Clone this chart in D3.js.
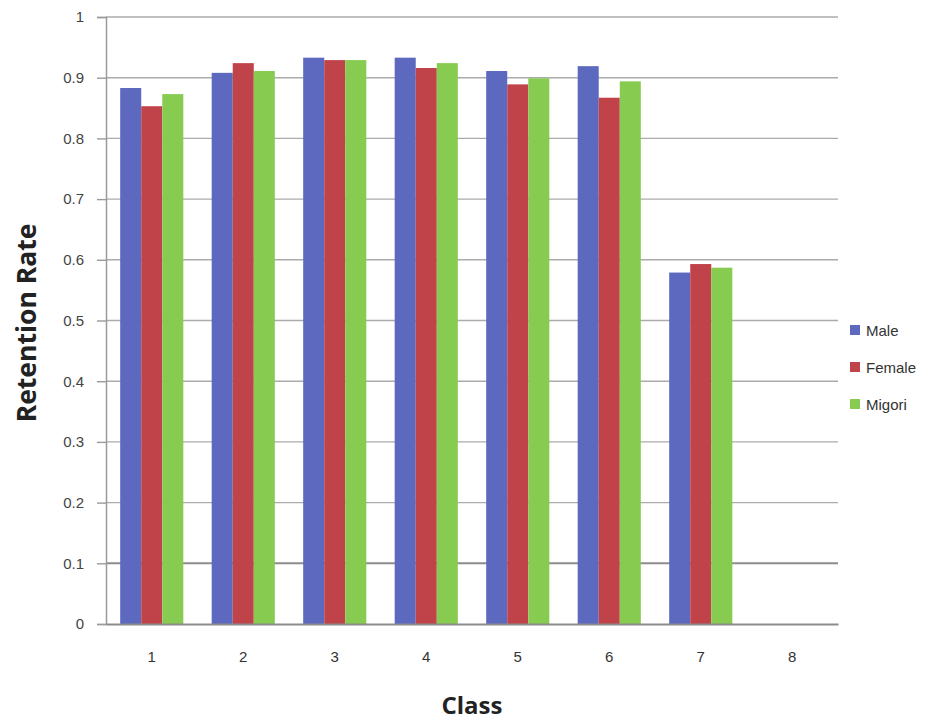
<!DOCTYPE html>
<html><head><meta charset="utf-8">
<script src="https://cdn.jsdelivr.net/npm/d3@7"></script>
<style>body{margin:0;background:#fff}</style>
</head><body>
<svg id="c" width="925" height="720"></svg>
<script>
const categories = ["1","2","3","4","5","6","7","8"];
const seriesNames = ["Male","Female","Migori"];
const male   = [0.883,0.908,0.933,0.933,0.911,0.919,0.579,null];
const female = [0.853,0.924,0.929,0.916,0.889,0.867,0.593,null];
const migori = [0.873,0.911,0.929,0.924,0.899,0.894,0.587,null];
const yTicks = [0,0.1,0.2,0.3,0.4,0.5,0.6,0.7,0.8,0.9,1];
const yTickLabels = ["0","0.1","0.2","0.3","0.4","0.5","0.6","0.7","0.8","0.9","1"];
const colors = ["#5d69bf","#c1434a","#87cb51"];

const series = [male, female, migori];
const svg = d3.select("#c");
const L=106, R=838, T=17, B=624;
const x = d3.scaleBand().domain(categories).range([L,R]).paddingInner(0.31).paddingOuter(0.155);
const xs = d3.scaleBand().domain(seriesNames).range([0,x.bandwidth()]);
const y = d3.scaleLinear().domain([0,1]).range([B,T]);

// gridlines
svg.append("g").selectAll("line").data(yTicks.filter(d=>d>0)).join("line")
  .attr("x1",L).attr("x2",R).attr("y1",d=>y(d)).attr("y2",d=>y(d))
  .attr("stroke",d=>Math.abs(d-0.1)<1e-9?"#8c8c8c":"#ababab")
  .attr("stroke-width",d=>Math.abs(d-0.1)<1e-9?2:1.4);

// bars
const g = svg.append("g");
series.forEach((s,i)=>{
  g.selectAll(null).data(categories.map((c,j)=>({c,v:s[j]})).filter(d=>d.v!=null)).join("rect")
   .attr("x",d=>x(d.c)+xs(seriesNames[i]))
   .attr("width",xs.bandwidth())
   .attr("y",d=>y(d.v)).attr("height",d=>y(0)-y(d.v))
   .attr("fill",colors[i]);
});

// y axis
const ya = d3.axisLeft(y).tickValues(yTicks).tickFormat((d,i)=>yTickLabels[i]).tickSize(9).tickPadding(13);
const yg = svg.append("g").attr("transform",`translate(${L},0)`).call(ya);
yg.select(".domain").attr("stroke","#9a9a9a").attr("stroke-width",1.5);
yg.selectAll(".tick line").attr("stroke","#9a9a9a").attr("stroke-width",1.4);
yg.selectAll("text").attr("font-family","Liberation Sans, Arial, sans-serif").attr("font-size",15).attr("fill","#444");

// x axis
const xa = d3.axisBottom(x).tickSize(0).tickPadding(27);
const xg = svg.append("g").attr("transform",`translate(0,${B})`).call(xa);
xg.select(".domain").attr("stroke","#8c8c8c").attr("stroke-width",2);
xg.selectAll("text").attr("font-family","Liberation Sans, Arial, sans-serif").attr("font-size",15).attr("fill","#333");

// titles
svg.append("text").attr("x",472).attr("y",714).attr("text-anchor","middle")
  .attr("font-family","Open Sans, sans-serif").attr("font-weight","bold").attr("font-size",24).attr("fill","#222").text("Class");
svg.append("text").attr("transform","translate(36,323) rotate(-90)").attr("text-anchor","middle")
  .attr("font-family","Open Sans, sans-serif").attr("font-weight","bold").attr("font-size",26.5).attr("fill","#222").text("Retention Rate");

// legend
const lg = svg.append("g").attr("transform","translate(850,330)");
seriesNames.forEach((n,i)=>{
  const row = lg.append("g").attr("transform",`translate(0,${i*37})`);
  row.append("rect").attr("x",0).attr("y",-5).attr("width",10).attr("height",10).attr("fill",colors[i]);
  row.append("text").attr("x",16).attr("y",5.5).attr("font-family","Liberation Sans, Arial, sans-serif")
    .attr("font-size",15).attr("fill","#333").text(n);
});
</script>
</body></html>
